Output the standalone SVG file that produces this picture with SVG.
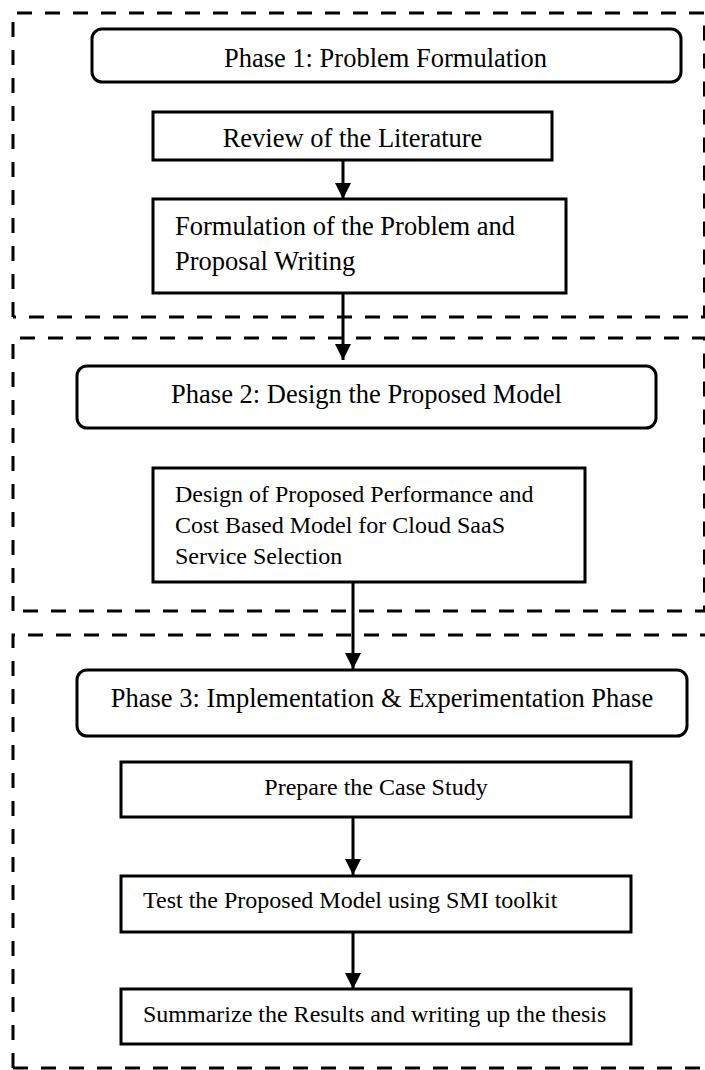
<svg xmlns="http://www.w3.org/2000/svg" width="705" height="1070" viewBox="0 0 705 1070">
  <style>
    .phase { fill: #fff; stroke: #000; stroke-width: 3; }
    .box { fill: #fff; stroke: #000; stroke-width: 3; }
    .dash { fill: none; stroke: #000; stroke-width: 3; stroke-dasharray: 15 13; }
    .t26 { font-family: "Liberation Serif", "Times New Roman", serif; font-size: 26.5px; fill: #000; }
    .t24 { font-family: "Liberation Serif", "Times New Roman", serif; font-size: 24px; fill: #000; }
    .conn { stroke: #000; stroke-width: 3; fill: none; }
  </style>
  <defs>
    <marker id="arr" viewBox="0 0 16 16" refX="16" refY="8" markerWidth="16" markerHeight="16" markerUnits="userSpaceOnUse" orient="auto">
      <path d="M0,0 L16,8 L0,16 z" fill="#000"/>
    </marker>
  </defs>
  <rect width="705" height="1070" fill="#fff"/>

  <g id="containers">
    <path class="dash" d="M13,317 L13,13 L704.5,13 L704.5,317 L13,317"/>
    <path class="dash" d="M13,611 L13,338 L704.5,338 L704.5,611 L13,611"/>
    <path class="dash" d="M13,1068 L13,635 L720,635 M13,1068 L720,1068"/>
  </g>

  <g id="connectors">
    <line class="conn" x1="343" y1="160" x2="343" y2="199" marker-end="url(#arr)"/>
    <line class="conn" x1="343" y1="293" x2="343" y2="360" marker-end="url(#arr)"/>
    <line class="conn" x1="353" y1="582" x2="353" y2="669" marker-end="url(#arr)"/>
    <line class="conn" x1="353" y1="817" x2="353" y2="875" marker-end="url(#arr)"/>
    <line class="conn" x1="353" y1="932" x2="353" y2="989" marker-end="url(#arr)"/>
  </g>

  <g id="phase1">
    <rect class="phase" x="92" y="29" width="589" height="53" rx="10"/>
    <text class="t26" x="385.5" y="67" text-anchor="middle">Phase 1: Problem Formulation</text>
  </g>
  <g id="review">
    <rect class="box" x="153" y="112" width="399" height="48"/>
    <text class="t26" x="352.5" y="147" text-anchor="middle">Review of the Literature</text>
  </g>
  <g id="formulation">
    <rect class="box" x="153" y="199" width="413" height="94"/>
    <text class="t26" x="175" y="235">Formulation of the Problem and</text>
    <text class="t26" x="175" y="270">Proposal Writing</text>
  </g>

  <g id="phase2">
    <rect class="phase" x="77" y="366" width="579" height="62" rx="10"/>
    <text class="t26" x="366.5" y="403" text-anchor="middle">Phase 2: Design the Proposed Model</text>
  </g>
  <g id="design">
    <rect class="box" x="153" y="468" width="432" height="114"/>
    <text class="t24" x="175" y="502">Design of Proposed Performance and</text>
    <text class="t24" x="175" y="533">Cost Based Model for Cloud SaaS</text>
    <text class="t24" x="175" y="564">Service Selection</text>
  </g>

  <g id="phase3">
    <rect class="phase" x="77" y="670" width="610" height="66" rx="10"/>
    <text class="t26" x="382" y="707" text-anchor="middle">Phase 3: Implementation &amp; Experimentation Phase</text>
  </g>
  <g id="prepare">
    <rect class="box" x="121" y="762" width="510" height="55"/>
    <text class="t24" x="376" y="795" text-anchor="middle">Prepare the Case Study</text>
  </g>
  <g id="test">
    <rect class="box" x="121" y="876" width="510" height="56"/>
    <text class="t24" x="143" y="908">Test the Proposed Model using SMI toolkit</text>
  </g>
  <g id="summarize">
    <rect class="box" x="121" y="989" width="510" height="55"/>
    <text class="t24" x="143" y="1022">Summarize the Results and writing up the thesis</text>
  </g>
</svg>
